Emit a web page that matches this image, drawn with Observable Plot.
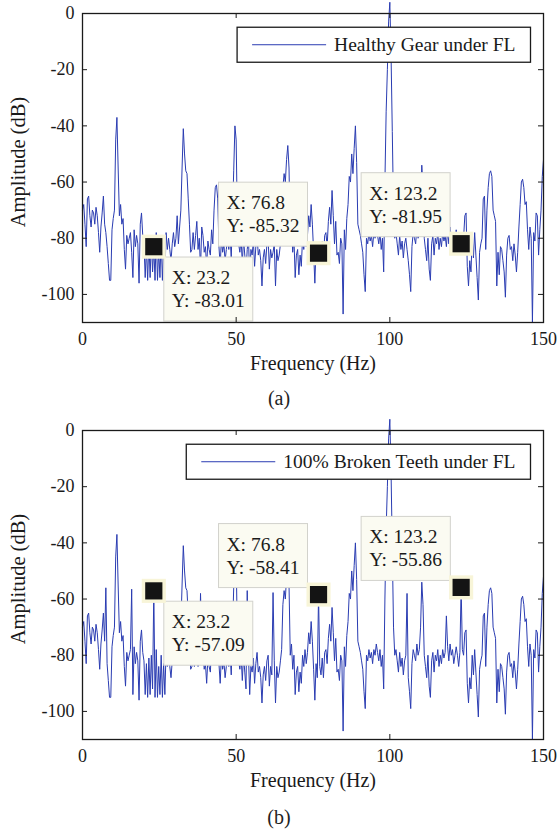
<!DOCTYPE html>
<html><head><meta charset="utf-8">
<script src="https://cdn.jsdelivr.net/npm/d3@7"></script>
<script src="https://cdn.jsdelivr.net/npm/@observablehq/plot@0.6"></script>
<style>
body{margin:0;background:#fff;font-family:"Liberation Serif","Times New Roman",serif;}
#wrap{position:relative;width:558px;height:833px;overflow:hidden;}
.panel{position:absolute;left:0;}
.panel text{font-family:"Liberation Serif","Times New Roman",serif !important;}
.cap{position:absolute;left:0;width:558px;text-align:center;font-size:20px;color:#222;line-height:22px;}
</style></head><body><div id="wrap"></div>
<script>
// ---- data ----
const freqStep = 0.4; // Hz between spectrum samples (0 .. 150 Hz)
// amplitude (dB) of the healthy gear spectrum, one row per 10 Hz (25 samples)
const healthyAmp = [
  /*  0 */ -70,-68,-75,-83,-66,-65,-72,-76,-70,-71,-75,-69,-72,-78,-85,-76,-71,-65,-75,-78,-83,-89,-95,-95,-77,
  /* 10 */ -73,-70,-45,-37,-55,-72,-68,-75,-73,-84,-91,-79,-82,-80,-78,-85,-94,-77,-83,-79,-82,-96,-75,-71,-79,
  /* 20 */ -82,-94,-83,-95,-81,-94,-80,-92,-83.01,-95,-78,-95,-84,-94,-80,-95,-83,-94,-78,-84,-80,-84,-88,-82,-78,
  /* 30 */ -83,-80,-72,-82,-76,-70,-55,-41,-50,-56,-57,-66,-75,-85,-84,-78,-84,-79,-74,-84,-80,-91,-76,-79,-85,
  /* 40 */ -83,-90,-81,-84,-86,-77,-82,-70,-62,-61,-66,-83,-90,-80,-85,-82,-88,-84,-80,-84,-79,-87,-72,-56,-40,
  /* 50 */ -45,-75,-82,-85,-80,-89,-80,-86,-92,-84,-80,-94,-84,-86,-81,-90,-83,-79,-86,-84,-88,-97,-87,-84,-89,
  /* 60 */ -82,-80,-91,-84,-87,-85,-82,-97,-84,-88,-86,-82,-78,-62,-57,-60,-52,-47,-55,-80,-76,-85,-80,-94,-86,
  /* 70 */ -84,-93,-86,-90,-80,-84,-78,-83,-79,-72,-76,-68,-75,-85,-96,-83,-88,-85.32,-84,-87,-81,-88,-79,-78,-83,
  /* 80 */ -74,-69,-75,-63,-72,-82,-74,-86,-85,-89,-80,-82,-107,-77,-84,-73,-68,-58,-60,-50,-57,-48,-40,-53,-75,
  /* 90 */ -77,-79,-82,-85,-93,-99,-80,-82,-78,-81,-79,-83,-78,-80,-76,-79,-82,-78,-84,-80,-92,-60,-35,-20,-3,
  /*100 */ 4,-15,-42,-70,-80,-78,-82,-86,-79,-84,-81,-87,-82,-80,-84,-88,-93,-99,-83,-78,-80,-82,-76,-80,-78,
  /*110 */ -70,-54,-62,-80,-84,-88,-80,-91,-95,-82,-79,-86,-80,-82,-78,-84,-80,-83,-78,-81,-79,-83,-77,-82,-76,
  /*120 */ -80,-78,-83,-80,-77,-80,-84,-79,-81.95,-78,-80,-72,-71,-90,-97,-88,-92,-80,-87,-78,-86,-94,-102,-85,-82,
  /*130 */ -80,-66,-65,-84,-70,-62,-57,-56,-58,-70,-72,-74,-97,-85,-93,-83,-84,-88,-92,-101,-86,-80,-79,-84,-83,
  /*140 */ -88,-82,-86,-92,-85,-76,-68,-60,-59,-62,-68,-67,-77,-84,-76,-80,-110,-78,-81,-71,-72,-86,-77,-70,-58,
  /*150 */ -52
];
// extra sideband spikes present in the broken-teeth spectrum
const brokenSpikeFreq = [7.6, 16.0, 23.2, 38.4, 53.6, 62.0, 76.8, 105.6, 118.4, 123.2];
const brokenSpikeAmp  = [-56, -56.5, -57.09, -58, -57, -57.7, -58.41, -58, -66, -55.86];
// data tips
const tipFreq = [23.2, 76.8, 123.2];
const tipAmpHealthy = [-83.01, -85.32, -81.95];
const tipAmpBroken  = [-57.09, -58.41, -55.86];
// axes
const xTicks = [0, 50, 100, 150];
const yTicks = [0, -20, -40, -60, -80, -100];
const xLabel = "Frequency (Hz)";
const yLabel = "Amplitude (dB)";
const legendHealthy = "Healthy Gear under FL";
const legendBroken = "100% Broken Teeth under FL";
const captions = ["(a)", "(b)"];

// ---- build series ----
const frequency = healthyAmp.map((_, i) => +(i * freqStep).toFixed(1));
const brokenAmp = healthyAmp.map((a, i) => {
  const k = brokenSpikeFreq.indexOf(frequency[i]);
  return k >= 0 ? brokenSpikeAmp[k] : a;
});

const NS = "http://www.w3.org/2000/svg";
const W = 558, H = 385, MT = 13, MB = 63, ML = 82, MR = 15;
const FH = H - MT - MB, FW = W - ML - MR;
const INK = "#1a1a1a";
const FONT = "Liberation Serif";

function makePanel(amp, tipAmp, legendText) {
  const data = frequency.map((f, i) => ({f, a: amp[i]}));
  const tips = tipFreq.map((f, i) => ({f, a: tipAmp[i], label: `X: ${f}\nY: ${tipAmp[i].toFixed(2)}`, below: i === 0}));
  const tipText = {x: "f", y: "a", text: "label", fontSize: 19.5, fontFamily: FONT, lineHeight: 1.18, fill: INK, textAnchor: "start"};
  return Plot.plot({
    width: W, height: H, marginTop: MT, marginBottom: MB, marginLeft: ML, marginRight: MR,
    style: {fontFamily: FONT, fontSize: "18px", color: INK, background: "transparent", overflow: "visible"},
    x: {domain: [0, 150]},
    y: {domain: [-110, 0]},
    marks: [
      Plot.line(data, {x: "f", y: "a", stroke: "#2a3cb2", strokeWidth: 1}),
      Plot.text(tips.filter(t => t.below), {...tipText, lineAnchor: "top", dx: 18, dy: 21}),
      Plot.text(tips.filter(t => !t.below), {...tipText, lineAnchor: "bottom", dx: -92, dy: -21}),
      Plot.dot(tips, {x: "f", y: "a", symbol: "square", r: 13.6, fill: "#f8f5d8"}),
      Plot.dot(tips, {x: "f", y: "a", symbol: "square", r: 9.7, fill: "#141414"}),
      Plot.ruleX(xTicks, {x: d => d, insetTop: FH - 5, stroke: INK}),
      Plot.ruleX(xTicks, {x: d => d, insetBottom: FH - 5, stroke: INK}),
      Plot.ruleY(yTicks, {y: d => d, insetRight: FW - 5, stroke: INK}),
      Plot.ruleY(yTicks, {y: d => d, insetLeft: FW - 5, stroke: INK}),
      Plot.frame({stroke: INK, strokeWidth: 1.3}),
      Plot.axisX(xTicks, {tickSize: 0, tickPadding: 10, tickFormat: d => String(d), label: null, fontSize: 18, fontFamily: FONT}),
      Plot.axisY(yTicks, {tickSize: 0, tickPadding: 8, tickFormat: d => String(d), label: null, fontSize: 18, fontFamily: FONT}),
      Plot.text([xLabel], {frameAnchor: "bottom", dy: 47, fontSize: 20, fontFamily: FONT, fill: INK}),
      Plot.text([yLabel], {frameAnchor: "left", textAnchor: "middle", dx: -64, dy: -6, rotate: -90, fontSize: 20.5, fontFamily: FONT, fill: INK}),
      Plot.text([legendText], {frameAnchor: "top-right", textAnchor: "end", lineAnchor: "middle", dx: -28, dy: 31.5, fontSize: 19.5, fontFamily: FONT, fill: INK})
    ]
  });
}

function el(name, attrs) {
  const e = document.createElementNS(NS, name);
  for (const k in attrs) e.setAttribute(k, attrs[k]);
  return e;
}

function decorate(svg, legendText) {
  for (const t of [...svg.querySelectorAll("text")]) {
    const txt = t.textContent;
    if (txt.startsWith("X:")) {
      const b = t.getBBox();
      const r = el("rect", {x: b.x - 8, y: b.y - 10, width: Math.max(b.width, 72) + 16, height: b.height + 20,
        fill: "#fbfbf2", stroke: "#d2d2cc", "stroke-width": 1});
      if (t.getAttribute("transform")) r.setAttribute("transform", t.getAttribute("transform"));
      t.parentNode.insertBefore(r, t);
    } else if (txt === legendText) {
      const b = t.getBBox();
      const x0 = b.x - 97, x1 = b.x + b.width + 15;
      const y0 = b.y - 7, y1 = b.y + b.height + 7;
      const grp = el("g", {});
      if (t.getAttribute("transform")) grp.setAttribute("transform", t.getAttribute("transform"));
      grp.appendChild(el("rect", {x: x0, y: y0, width: x1 - x0, height: y1 - y0, fill: "#fff", stroke: INK, "stroke-width": 1.3}));
      const ym = (y0 + y1) / 2;
      grp.appendChild(el("line", {x1: x0 + 15, x2: x0 + 89, y1: ym, y2: ym, stroke: "#2a3cb2", "stroke-width": 1}));
      t.parentNode.insertBefore(grp, t);
    }
  }
}

const wrap = document.getElementById("wrap");
const panels = [
  {amp: healthyAmp, tips: tipAmpHealthy, legend: legendHealthy, top: 0, cap: 387},
  {amp: brokenAmp, tips: tipAmpBroken, legend: legendBroken, top: 417, cap: 806}
];
panels.forEach((p, i) => {
  const svg = makePanel(p.amp, p.tips, p.legend);
  svg.classList.add("panel");
  svg.style.top = p.top + "px";
  wrap.appendChild(svg);
  decorate(svg, p.legend);
  const c = document.createElement("div");
  c.className = "cap";
  c.style.top = p.cap + "px";
  c.textContent = captions[i];
  wrap.appendChild(c);
});
</script>
</body></html>
